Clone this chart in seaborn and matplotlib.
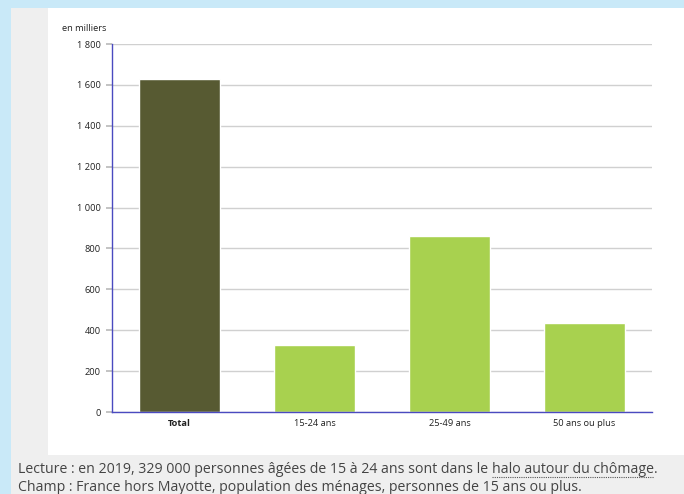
"""halo autour du chomage en 2019, par age"""

import matplotlib.pyplot as plt
import seaborn as sns
import pandas as pd
from matplotlib.patches import Rectangle

categories = ["Total", "15-24 ans", "25-49 ans", "50 ans ou plus"]
values = [1627, 329, 861, 437]
bar_colors = ["#575a32", "#a8d14f", "#a8d14f", "#a8d14f"]
y_ticks = [0, 200, 400, 600, 800, 1000, 1200, 1400, 1600, 1800]


def halo_graph():
    df = pd.DataFrame({"age": categories, "milliers": values})

    sns.set_theme(style="white")
    plt.rcParams["font.family"] = ["Open Sans", "DejaVu Sans"]

    fig = plt.figure(figsize=(6.84, 4.94), dpi=100)
    fig.patch.set_facecolor("#c9e9f8")
    # page background and white chart card
    fig.patches.append(Rectangle((11 / 684, 0), 1, 486 / 494, transform=fig.transFigure,
                                 facecolor="#efefef", edgecolor="none", zorder=-10))
    fig.patches.append(Rectangle((48 / 684, 39 / 494), 1, 447 / 494, transform=fig.transFigure,
                                 facecolor="white", edgecolor="none", zorder=-9))

    ax = fig.add_axes([112 / 684, 82 / 494, 540 / 684, 368 / 494])
    sns.barplot(data=df, x="age", y="milliers", hue="age", palette=bar_colors,
                width=0.6, saturation=1, legend=False, ax=ax, zorder=2)

    ax.set_facecolor("none")
    ax.set_xlim(-0.5, 3.5)
    ax.set_ylim(0, 1800)
    ax.set_yticks(y_ticks)
    ax.set_yticklabels([f"{v:,}".replace(",", " ") for v in y_ticks], fontsize=6.7, color="#222222")
    ax.set_xticks(range(len(categories)))
    ax.set_xticklabels(categories, fontsize=6.7, color="#222222")
    ax.get_xticklabels()[0].set_fontweight("bold")
    ax.set_xlabel("")
    ax.set_ylabel("")
    ax.yaxis.grid(True, color="#d0d0d0", linewidth=1, zorder=0)
    ax.set_axisbelow(True)
    ax.tick_params(axis="y", length=4, color="#bbbbbb", pad=4, left=True)
    ax.tick_params(axis="x", length=0, pad=5)

    for side in ["top", "right"]:
        ax.spines[side].set_visible(False)
    for side in ["left", "bottom"]:
        ax.spines[side].set_color("#4a4ac0")
        ax.spines[side].set_linewidth(1)

    fig.text(62 / 684, 1 - 31 / 494, "en milliers", fontsize=6.7, color="#222222",
             va="baseline")

    # notes under the chart
    fs = 10.2
    note_color = "#444444"
    t1 = fig.text(18 / 684, 1 - 473 / 494,
                  "Lecture : en 2019, 329 000 personnes âgées de 15 à 24 ans sont dans le ",
                  fontsize=fs, color=note_color, va="baseline")
    fig.canvas.draw()
    bb = t1.get_window_extent()
    x_link = bb.x1 / fig.bbox.width
    t2 = fig.text(x_link, 1 - 473 / 494, "halo autour du chômage",
                  fontsize=fs, color=note_color, va="baseline")
    fig.canvas.draw()
    bb2 = t2.get_window_extent()
    fig.text(bb2.x1 / fig.bbox.width, 1 - 473 / 494, ".", fontsize=fs,
             color=note_color, va="baseline")
    y_ul = 1 - 477 / 494
    fig.add_artist(plt.Line2D([bb2.x0 / fig.bbox.width, bb2.x1 / fig.bbox.width],
                              [y_ul, y_ul], transform=fig.transFigure,
                              color="#555555", linewidth=0.8, linestyle=(0, (1, 1))))

    fig.text(18 / 684, 1 - 491 / 494,
             "Champ : France hors Mayotte, population des ménages, personnes de 15 ans ou plus.",
             fontsize=fs, color=note_color, va="baseline")

    plt.savefig("out.png", dpi=100)
    plt.close()


halo_graph()
